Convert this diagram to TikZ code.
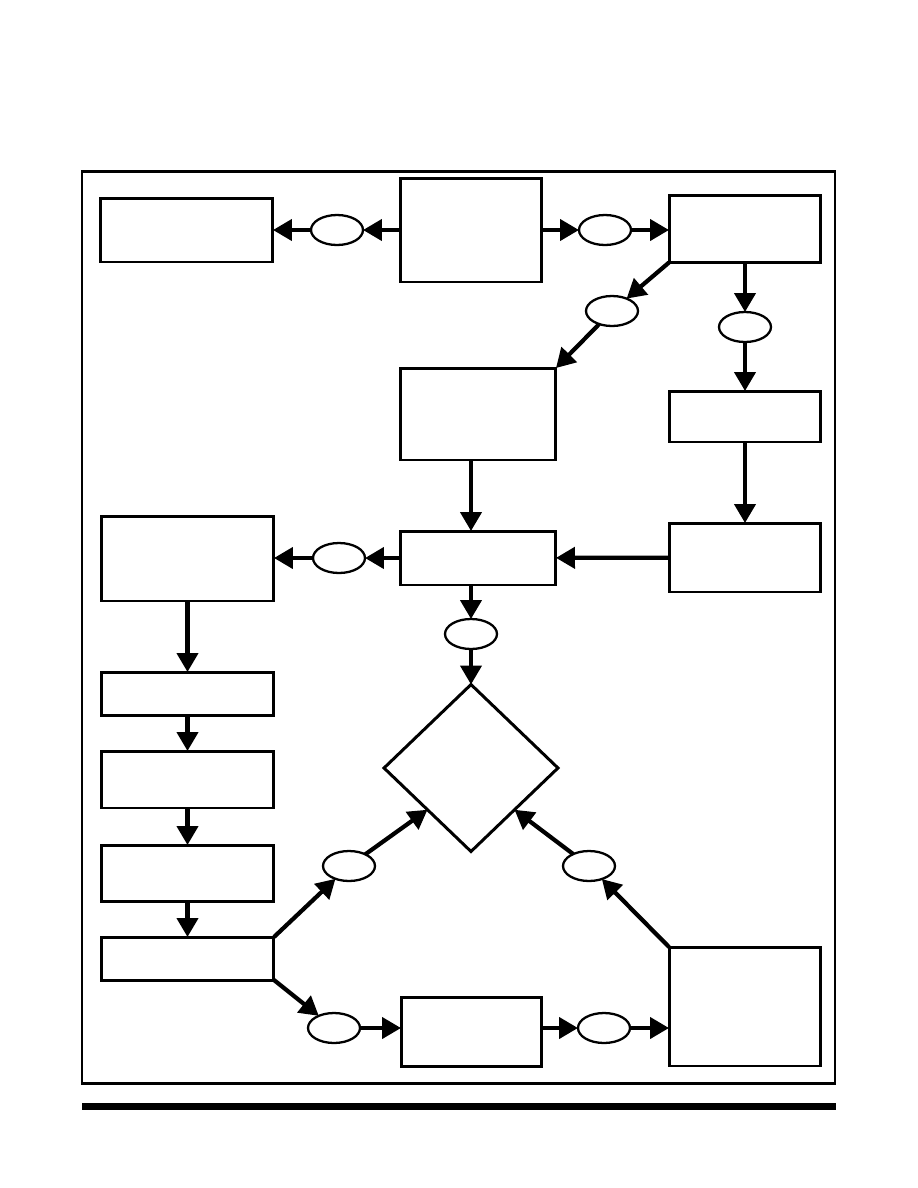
\documentclass[tikz,border=0pt]{standalone}
\usetikzlibrary{shapes.geometric, arrows.meta, positioning}

\begin{document}
\begin{tikzpicture}[
  x=0.02cm, y=-0.02cm,
  flowbox/.style={draw, line width=1.7pt, inner sep=0pt, outer sep=0pt},
  tag/.style={draw, ellipse, line width=1.3pt, inner sep=0pt, outer sep=0pt, minimum width=1.04cm, minimum height=0.6cm},
  flow/.style={line width=2.4pt, -{Triangle[length=0.38cm, width=0.42cm]}}
]
\useasboundingbox (0,0) rectangle (918,1188);

% frame and bottom rule
\draw[line width=1.7pt] (82,171) rectangle (835,1083);
\fill (82,1103) rectangle (836,1110);

% boxes
\node[flowbox, minimum width=3.46cm, minimum height=1.28cm] (A) at (186.5,230) {};
\node[flowbox, minimum width=2.84cm, minimum height=2.08cm] (B) at (471,230) {};
\node[flowbox, minimum width=3.04cm, minimum height=1.34cm] (C) at (745,229) {};
\node[flowbox, minimum width=3.12cm, minimum height=1.84cm] (D) at (478,414) {};
\node[flowbox, minimum width=3.04cm, minimum height=1.02cm] (E) at (745,416.5) {};
\node[flowbox, minimum width=3.04cm, minimum height=1.38cm] (F) at (745,557.5) {};
\node[flowbox, minimum width=3.12cm, minimum height=1.08cm] (G) at (478,558) {};
\node[flowbox, minimum width=3.46cm, minimum height=1.70cm] (H) at (187.5,558.5) {};
\node[flowbox, minimum width=3.46cm, minimum height=0.86cm] (I) at (187.5,693.5) {};
\node[flowbox, minimum width=3.46cm, minimum height=1.14cm] (J) at (187.5,779.5) {};
\node[flowbox, minimum width=3.46cm, minimum height=1.12cm] (K) at (187.5,873) {};
\node[flowbox, minimum width=3.46cm, minimum height=0.86cm] (L) at (187.5,958.5) {};
\node[flowbox, minimum width=3.04cm, minimum height=2.38cm] (M) at (745,1006.5) {};
\node[flowbox, minimum width=2.82cm, minimum height=1.38cm] (N) at (471.5,1031.5) {};

% decision
\node[flowbox, diamond, minimum width=3.48cm, minimum height=3.34cm] (dia) at (471,768) {};

% ellipses
\node[tag] (e1) at (337,230) {};
\node[tag] (e2) at (605,230) {};
\node[tag] (e3) at (612,311) {};
\node[tag] (e4) at (745,327) {};
\node[tag] (e5) at (339,558) {};
\node[tag] (e6) at (471,634) {};
\node[tag] (e7) at (349,866) {};
\node[tag] (e8) at (589,866) {};
\node[tag] (e9) at (334,1028) {};
\node[tag] (e10) at (604,1028) {};

% connectors
\draw[flow] (B) -- (e1);
\draw[flow] (e1) -- (A);
\draw[flow] (B) -- (e2);
\draw[flow] (e2) -- (e2 -| C.west);
\draw[flow] (C.south west) -- (e3);
\draw[flow] (e3) -- (D.north east);
\draw[flow] (C) -- (e4);
\draw[flow] (e4) -- (E);
\draw[flow] (E) -- (F);
\draw[flow] (D.south -| dia) -- (G.north -| dia);
\draw[flow] (F) -- (G);
\draw[flow] (G.west |- e5) -- (e5);
\draw[flow] (e5) -- (e5 -| H.east);
\draw[flow] (G.south -| e6) -- (e6);
\draw[flow] (e6) -- (dia);
\draw[flow] (H) -- (I);
\draw[flow] (I) -- (J);
\draw[flow] (J) -- (K);
\draw[flow] (K) -- (L);
\draw[flow] (L.north east) -- (e7);
\draw[flow] (e7) -- (dia.south west);
\draw[flow] (M.north west) -- (e8);
\draw[flow] (e8) -- (dia.south east);
\draw[flow] (L.south east) -- (e9);
\draw[flow] (e9) -- (e9 -| N.west);
\draw[flow] (N.east |- e10) -- (e10);
\draw[flow] (e10) -- (e10 -| M.west);

\end{tikzpicture}
\end{document}
